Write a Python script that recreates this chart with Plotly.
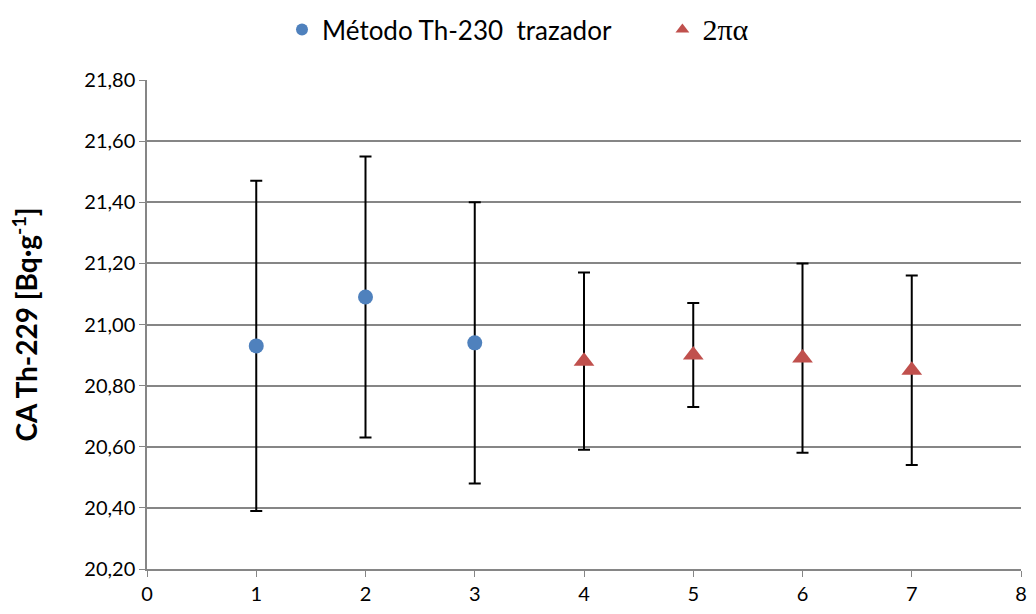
import plotly.graph_objects as go

x_tracer = [1, 2, 3]
y_tracer = [20.93, 21.09, 20.94]
err_tracer = [0.54, 0.46, 0.46]

x_2pa = [4, 5, 6, 7]
y_2pa = [20.88, 20.90, 20.89, 20.85]
err_2pa = [0.29, 0.17, 0.31, 0.31]

y_ticks = [20.20, 20.40, 20.60, 20.80, 21.00, 21.20, 21.40, 21.60, 21.80]
y_ticklabels = [f"{v:.2f}".replace(".", ",") for v in y_ticks]

err_style = dict(type="data", visible=True, color="black", thickness=2, width=6)

fig = go.Figure()
fig.add_trace(go.Scatter(
    x=x_tracer, y=y_tracer, mode="markers",
    name="Método Th-230  trazador" + "&nbsp;" * 7,
    marker=dict(symbol="circle", size=15, color="#4F81BD"),
    error_y=dict(array=err_tracer, **err_style),
))
fig.add_trace(go.Scatter(
    x=x_2pa, y=y_2pa, mode="markers",
    name="<span style='font-family:Liberation Serif;font-size:30px'>2πα</span>",
    marker=dict(symbol="triangle-up", size=18, color="#C0504D"),
    error_y=dict(array=err_2pa, **err_style),
))

fig.update_layout(
    width=1036, height=614,
    margin=dict(l=147, r=9, t=80, b=44),
    paper_bgcolor="white", plot_bgcolor="white",
    font=dict(family="Lato, Open Sans, sans-serif", size=20, color="black"),
    showlegend=True,
    legend=dict(orientation="h", xref="container", x=0.5, xanchor="center",
                yref="container", y=0.99, yanchor="top",
                font=dict(size=26), itemsizing="constant", traceorder="normal"),
    xaxis=dict(range=[0, 8], tickmode="array", tickvals=list(range(0, 9)),
               showgrid=False, zeroline=False, showline=True, linecolor="#868686",
               linewidth=2, ticks="outside", ticklen=6, tickcolor="#868686",
               tickfont=dict(size=20), ticklabeloverflow="allow"),
    yaxis=dict(range=[20.20, 21.80], tickmode="array", tickvals=y_ticks,
               ticktext=y_ticklabels, showgrid=True, gridcolor="#868686",
               gridwidth=1.5, zeroline=False, showline=True, linecolor="#868686",
               linewidth=1.5, ticks="outside", ticklen=6, tickcolor="#868686",
               tickfont=dict(size=20),
               title=dict(text="<b>CA Th-229 [Bq·g<sup>-1</sup>]</b>",
                          font=dict(size=28), standoff=38)),
)

fig.write_html("out.html")
